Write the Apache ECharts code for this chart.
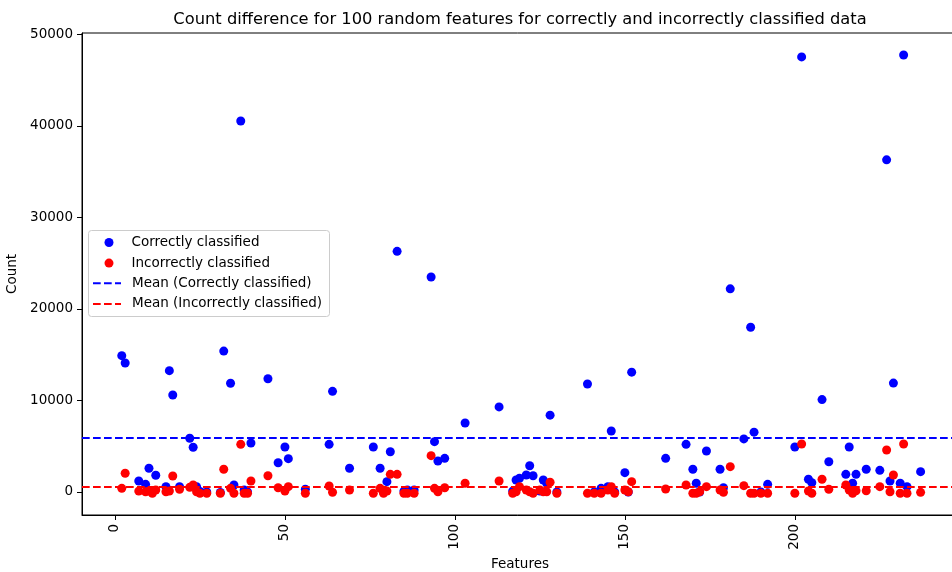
<!DOCTYPE html>
<html>
<head>
<meta charset="utf-8">
<script src="https://cdn.jsdelivr.net/npm/echarts@6/dist/echarts.min.js"></script>
<style>
  html, body { margin: 0; padding: 0; background: #fff; }
  #chart { width: 952px; height: 572px; }
</style>
</head>
<body>
<div id="chart"></div>
<script>
// feature index of each of the 100 sampled features
const features = [
  2, 3, 7, 9, 10, 11, 12, 15, 16, 17, 19, 22, 23, 24, 25, 27, 31, 32, 34, 35,
  37, 38, 39, 40, 45, 48, 50, 51, 56, 63, 64, 69, 76, 78, 79, 80, 81, 83, 85, 86,
  88, 93, 94, 95, 97, 103, 113, 117, 118, 119, 121, 122, 123, 125, 126, 127, 128, 130, 139, 141,
  143, 145, 146, 147, 150, 151, 152, 162, 168, 170, 171, 172, 174, 178, 179, 181, 185, 187, 188, 190,
  192, 200, 202, 204, 205, 208, 210, 215, 216, 217, 218, 221, 225, 227, 228, 229, 231, 232, 233, 237
];
// counts for correctly classified data
const correctCounts = [
  14900, 14100, 1200, 840, 2590, 150, 1830, 580, 13260, 10600, 580, 5870, 4890, 580, 50, 0, -50, 15400, 11880, 770,
  40550, 220, 0, 5360, 12380, 3200, 4920, 3640, 300, 5210, 11000, 2590, 4920, 2590, 0, 1130, 4400, 26300, 100, 220,
  220, 23500, 5500, 3390, 3680, 7540, 9300, 100, 1310, 1500, 1860, 2870, 1780, 100, 1310, 950, 8400, 0, 11800, 0,
  400, 580, 6670, 0, 2110, 0, 13100, 3680, 5210, 2480, 950, 0, 4480, 2480, 470, 22200, 5800, 18000, 6540, 0,
  840, 4920, 47550, 1390, 1020, 10100, 3310, 1930, 4920, 950, 1930, 2480, 2370, 36300, 1200, 11900, 950, 47760, 580, 2220
];
// counts for incorrectly classified data
const incorrectCounts = [
  400, 2050, 100, 30, 110, -140, 220, 30, 110, 1750, 300, 510, 760, 30, -140, -140, -140, 2480, 400, -140,
  5210, -140, -140, 1200, 1780, 470, 110, 580, -140, 650, -30, 220, -140, 400, -140, 110, 1930, 1930, -140, -140,
  -140, 3970, 400, 30, 470, 950, 1200, -140, 30, 580, 220, 30, -140, 220, 30, 30, 1060, -140, -140, -140,
  -140, 220, 580, -140, 220, 30, 1130, 330, 760, -140, -140, 30, 580, 220, -40, 2770, 690, -140, -140, -140,
  -140, -140, 5250, 110, -140, 1390, 300, 760, 220, -140, 140, 140, 580, 4590, 30, 1860, -140, 5250, -140, -40
];
const meanCorrect = 5935;
const meanIncorrect = 580;
const xTicks = [0, 50, 100, 150, 200];
const yTicks = [0, 10000, 20000, 30000, 40000, 50000];

const font = 'DejaVu Sans';
const dash = [7.7, 3.3];
// dashed-line legend icon (three dashes, 28px wide)
const dashIcon = 'path://M0,0h7.7v2h-7.7z M11,0h7.7v2h-7.7z M22,0h6v2h-6z';

const chart = echarts.init(document.getElementById('chart'));

chart.setOption({
  backgroundColor: '#fff',
  animation: false,
  textStyle: { fontFamily: font },
  title: {
    text: 'Count difference for 100 random features for correctly and incorrectly classified data',
    left: 515,
    textAlign: 'center',
    top: 7,
    textStyle: { fontFamily: font, fontSize: 16.3, fontWeight: 'normal', color: '#000' }
  },
  graphic: [{
    type: 'rect',
    z: 3,
    shape: { x: 88.5, y: 230.5, width: 241, height: 86, r: 3 },
    style: { fill: 'rgba(255,255,255,0.8)', stroke: '#cccccc', lineWidth: 1 }
  }],
  legend: [
    {
      orient: 'vertical',
      left: 104.5, top: 235.5,
      padding: 0,
      itemWidth: 9, itemHeight: 9, itemGap: 6.6,
      z: 5,
      data: [
        { name: 'Correctly classified', icon: 'circle' },
        { name: 'Incorrectly classified', icon: 'circle' }
      ],
      textStyle: { fontFamily: font, fontSize: 13.5, color: '#000', lineHeight: 14, padding: [0, 0, 0, 13] }
    },
    {
      orient: 'vertical',
      left: 93, top: 276.3,
      padding: 0,
      itemWidth: 28, itemHeight: 14, itemGap: 6.6,
      z: 5,
      data: [
        { name: 'Mean (Correctly classified)', icon: dashIcon, itemStyle: { color: '#0000ff' } },
        { name: 'Mean (Incorrectly classified)', icon: dashIcon, itemStyle: { color: '#ff0000' } }
      ],
      textStyle: { fontFamily: font, fontSize: 13.5, color: '#000', lineHeight: 14, padding: [0, 0, 0, 6] }
    }
  ],
  grid: {
    left: 82, top: 33, width: 876, height: 482,
    outerBoundsMode: 'none',
    containLabel: false,
    show: true, borderColor: '#000', borderWidth: 1, backgroundColor: '#fff'
  },
  xAxis: {
    type: 'value',
    min: -9.7, max: 248,
    name: 'Features',
    nameLocation: 'middle',
    nameGap: 40,
    nameTextStyle: { fontFamily: font, fontSize: 13.5, color: '#000' },
    axisLine: { show: true, onZero: false, lineStyle: { color: '#000', width: 1 } },
    axisTick: { show: true, length: 5, lineStyle: { color: '#000' }, customValues: xTicks },
    axisLabel: { rotate: 90, margin: 9, fontFamily: font, fontSize: 13.5, color: '#000', customValues: xTicks },
    splitLine: { show: false }
  },
  yAxis: {
    type: 'value',
    min: -2514, max: 50164,
    name: 'Count',
    nameLocation: 'middle',
    nameGap: 56,
    nameTextStyle: { fontFamily: font, fontSize: 13.5, color: '#000' },
    axisLine: { show: true, onZero: false, lineStyle: { color: '#000', width: 1 } },
    axisTick: { show: true, length: 5, lineStyle: { color: '#000' }, customValues: yTicks },
    axisLabel: {
      margin: 9, fontFamily: font, fontSize: 13.5, color: '#000', customValues: yTicks,
      formatter: v => String(v)
    },
    splitLine: { show: false }
  },
  series: [
    {
      name: 'Correctly classified',
      type: 'scatter',
      symbolSize: 9,
      itemStyle: { color: '#0000ff', opacity: 1 },
      data: features.map((f, i) => [f, correctCounts[i]])
    },
    {
      name: 'Incorrectly classified',
      type: 'scatter',
      symbolSize: 9,
      itemStyle: { color: '#ff0000', opacity: 1 },
      data: features.map((f, i) => [f, incorrectCounts[i]])
    },
    {
      name: 'Mean (Correctly classified)',
      type: 'line',
      symbol: 'none',
      data: [],
      itemStyle: { color: '#0000ff' },
      lineStyle: { color: '#0000ff', width: 2, type: dash },
      markLine: {
        silent: true, symbol: 'none', label: { show: false },
        lineStyle: { color: '#0000ff', width: 2, type: dash },
        data: [{ yAxis: meanCorrect }]
      }
    },
    {
      name: 'Mean (Incorrectly classified)',
      type: 'line',
      symbol: 'none',
      data: [],
      itemStyle: { color: '#ff0000' },
      lineStyle: { color: '#ff0000', width: 2, type: dash },
      markLine: {
        silent: true, symbol: 'none', label: { show: false },
        lineStyle: { color: '#ff0000', width: 2, type: dash },
        data: [{ yAxis: meanIncorrect }]
      }
    }
  ]
});
</script>
</body>
</html>
